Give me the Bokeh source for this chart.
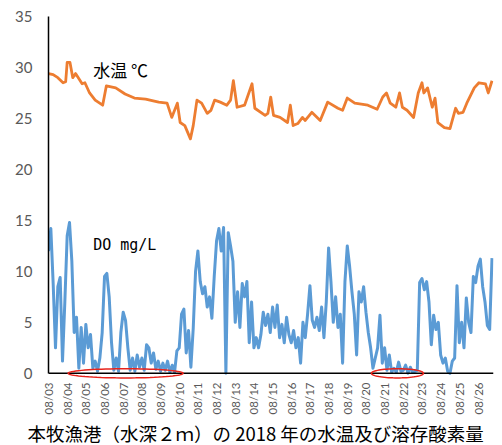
import math
from bokeh.plotting import figure
from bokeh.models import FixedTicker, Label, Range1d, PolyAnnotation, Span
from bokeh.embed import file_html
from bokeh.resources import INLINE

# ---------------- data ----------------
DATE_LABELS = ["08/03", "08/04", "08/05", "08/06", "08/07", "08/08", "08/09", "08/10",
               "08/11", "08/12", "08/13", "08/14", "08/15", "08/16", "08/17", "08/18",
               "08/19", "08/20", "08/21", "08/22", "08/23", "08/24", "08/25", "08/26"]

Y_TICKS = [0, 5, 10, 15, 20, 25, 30, 35]

# water temperature (day offset from 08/03 00:00, degC)
TEMP_DAYS = [0.0, 0.25, 0.5, 0.78, 0.92, 1.0, 1.15, 1.3, 1.45, 1.8, 1.95, 2.2, 2.5, 2.9,
             3.1, 3.6, 4.1, 4.6, 5.2, 5.9, 6.35, 6.6, 6.9, 7.05, 7.3, 7.6, 7.75, 7.95,
             8.2, 8.5, 8.7, 8.9, 9.2, 9.55, 9.75, 9.9, 10.1, 10.5, 10.9, 11.05, 11.6,
             11.75, 11.9, 12.05, 12.4, 12.8, 12.95, 13.1, 13.35, 13.6, 13.75, 14.1,
             14.55, 14.95, 15.5, 15.75, 16.0, 16.4, 17.1, 17.6, 17.9, 18.1, 18.3, 18.6,
             18.8, 18.95, 19.2, 19.55, 19.8, 20.0, 20.1, 20.3, 20.55, 20.7, 20.85, 21.2,
             21.5, 21.8, 21.95, 22.2, 22.4, 22.8, 23.05, 23.4, 23.55, 23.75]
TEMP_VALUES = [29.4, 29.3, 29.0, 28.5, 28.6, 30.5, 30.5, 29.0, 29.4, 28.4, 28.5, 27.5, 26.8, 26.3,
               28.2, 28.0, 27.4, 27.0, 26.9, 26.6, 26.5, 25.1, 26.5, 24.6, 24.3, 23.0, 24.3, 26.8,
               26.5, 25.5, 25.8, 26.8, 26.6, 26.3, 26.8, 28.7, 26.1, 26.3, 28.4, 26.0, 25.3,
               25.5, 27.1, 25.3, 25.1, 24.6, 26.3, 24.3, 24.5, 25.1, 24.8, 25.6,
               24.8, 26.6, 26.0, 25.8, 27.0, 26.5, 26.3, 25.9, 27.1, 27.5, 26.5, 26.1,
               27.5, 26.1, 25.8, 25.1, 27.5, 28.5, 27.5, 28.0, 26.1, 27.0, 24.6, 24.1,
               24.0, 26.0, 25.5, 25.6, 26.5, 28.0, 28.5, 28.4, 27.5, 28.7]

# dissolved oxygen, one reading every 3 hours from 08/03 00:00 (mg/L)
DO_STEP_HOURS = 3
DO_VALUES = [
    12.0, 14.2, 8.8, 2.5, 8.5, 9.4, 1.2, 7.0,      # 08/03
    13.5, 14.8, 11.0, 4.0, 5.5, 0.5, 4.5, 1.0,     # 08/04
    4.8, 2.5, 3.8, 0.5, 1.2, 0.2, 1.5, 4.0,        # 08/05
    9.5, 9.8, 7.5, 3.0, 0.3, 1.5, 0.2, 4.0,        # 08/06
    6.0, 5.2, 2.5, 0.3, 1.5, 0.2, 1.8, 0.6,        # 08/07
    1.5, 0.3, 2.8, 2.5, 1.0, 2.0, 0.4, 1.2,        # 08/08
    0.2, 1.0, 0.3, 1.2, 0.1, 0.8, 0.1, 2.2,        # 08/09
    2.5, 5.8, 6.3, 2.0, 4.2, 0.6, 4.4, 10.0,       # 08/10
    12.0, 9.0, 7.8, 8.5, 6.5, 7.5, 5.4, 9.5,       # 08/11
    13.0, 14.2, 12.0, 14.3, 0.0, 13.8, 12.5, 11.0, # 08/12
    5.0, 8.0, 4.5, 8.8, 7.5, 9.0, 3.0, 7.0,        # 08/13
    2.5, 3.5, 2.5, 3.8, 6.0, 4.7, 5.8, 4.0,        # 08/14
    6.5, 4.5, 6.7, 3.5, 4.8, 3.0, 5.5, 3.8,        # 08/15
    3.0, 4.2, 2.5, 3.5, 1.0, 5.0, 3.5, 5.8,        # 08/16
    8.6, 5.2, 4.5, 5.5, 4.2, 6.5, 3.5, 7.0,        # 08/17
    12.3, 9.0, 5.0, 7.5, 4.5, 5.8, 1.0, 9.0,       # 08/18
    12.5, 10.5, 8.0, 5.8, 1.8, 8.0, 7.0, 8.5,      # 08/19
    6.0, 4.0, 2.5, 0.5, 1.5, 2.5, 5.7, 1.0,        # 08/20
    2.5, 0.3, 1.8, 0.1, 0.5, 0.1, 1.1, 0.2,        # 08/21
    0.3, 0.8, 0.0, 0.6, 0.1, 0.2, 0.3, 8.9,        # 08/22
    9.3, 8.2, 9.0, 7.0, 2.8, 5.7, 4.3, 5.0,        # 08/23
    1.8, 1.0, 1.5, 0.2, 0.0, 1.2, 1.5, 8.6,        # 08/24
    3.0, 5.0, 2.5, 7.4, 5.0, 4.0, 9.5, 8.9,        # 08/25
    10.5, 11.2, 8.5, 7.0, 4.7, 4.3, 11.3,          # 08/26
]
DO_DAYS = [i * DO_STEP_HOURS / 24.0 for i in range(len(DO_VALUES))]

# hypoxic periods circled in red (start day, end day)
LOW_DO_PERIODS = [(1.05, 7.21), (17.29, 20.08)]

TITLE = "本牧漁港（水深２ｍ）の 2018 年の水温及び溶存酸素量"
TEMP_LABEL = "水温 ℃"
DO_LABEL = "DO mg/L"

# ---------------- figure ----------------
X_END = 23.83
Y_MIN = -0.9   # small room below zero for the red ellipses
Y_MAX = 35

p = figure(width=502, height=445, output_backend="svg", toolbar_location=None,
           x_range=Range1d(0, X_END), y_range=Range1d(Y_MIN, Y_MAX),
           min_border_left=48, min_border_right=9, min_border_top=16, min_border_bottom=63,
           title=TITLE, title_location="below")
p.title.align = "left"
p.title.offset = -21
p.title.text_font = "Noto Sans CJK JP"
p.title.text_font_size = "18.5px"
p.title.text_font_style = "normal"
p.title.text_color = "black"
p.title.standoff = 0

p.grid.visible = False
p.outline_line_color = None
p.background_fill_color = "white"
p.border_fill_color = "white"

xa = p.xaxis[0]
xa.ticker = FixedTicker(ticks=list(range(len(DATE_LABELS))))
xa.major_label_overrides = {i: lab for i, lab in enumerate(DATE_LABELS)}
xa.major_label_orientation = math.pi / 2
xa.axis_line_color = None
xa.major_tick_line_color = None
xa.minor_tick_line_color = None
xa.major_tick_out = 0
xa.major_tick_in = 0
xa.major_label_standoff = 0
xa.major_label_text_font = "Lato"
xa.major_label_text_font_size = "11.5px"
xa.major_label_text_color = "#595959"

ya = p.yaxis[0]
ya.ticker = FixedTicker(ticks=Y_TICKS)
ya.bounds = (0, Y_MAX)
ya.axis_line_color = "black"
ya.axis_line_width = 1.5
ya.major_tick_line_color = None
ya.minor_tick_line_color = None
ya.major_tick_out = 0
ya.major_label_standoff = 16
ya.major_label_text_font = "Lato"
ya.major_label_text_font_size = "15px"
ya.major_label_text_color = "#595959"

p.line(DO_DAYS, DO_VALUES, line_color="#5B9BD5", line_width=3.0, line_join="round")
p.line(TEMP_DAYS, TEMP_VALUES, line_color="#ED7D31", line_width=2.8, line_join="round")

# x-axis baseline at zero
p.add_layout(Span(location=0, dimension="width", line_color="black", line_width=1.5))

# red ellipses marking hypoxic periods
ELLIPSE_HALF_HEIGHT = 0.45
for start, end in LOW_DO_PERIODS:
    cx = (start + end) / 2
    a = (end - start) / 2
    ts = [2 * math.pi * k / 72 for k in range(73)]
    p.add_layout(PolyAnnotation(xs=[cx + a * math.cos(t) for t in ts],
                                ys=[ELLIPSE_HALF_HEIGHT * math.sin(t) for t in ts],
                                fill_alpha=0, line_color="#E8231B", line_alpha=1.0,
                                line_width=1.5, level="overlay"))

p.add_layout(Label(x=2.39, y=29.8, text=TEMP_LABEL, text_font="Noto Sans CJK JP",
                   text_font_size="17px", text_color="black", text_baseline="middle"))
p.add_layout(Label(x=2.39, y=12.6, text=DO_LABEL, text_font="DejaVu Sans Mono",
                   text_font_size="15px", text_color="black", text_baseline="middle"))

open("out.html", "w").write(file_html(p, INLINE))
